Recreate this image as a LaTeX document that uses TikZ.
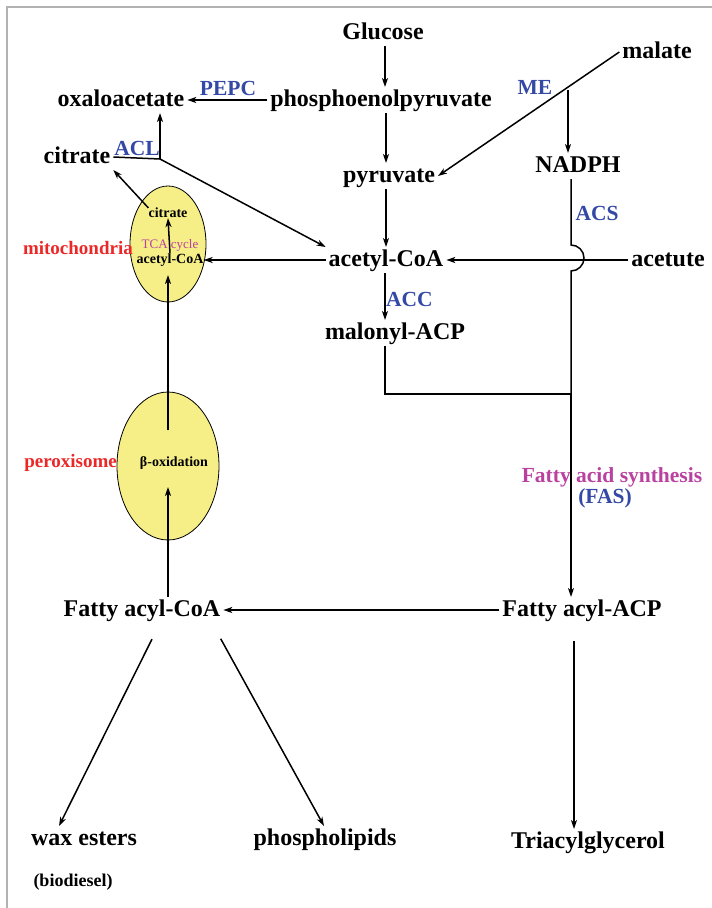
\documentclass[tikz,border=0pt]{standalone}
\usepackage{fontspec}
\setmainfont{Liberation Serif}
\usetikzlibrary{arrows.meta,shapes.geometric}

\definecolor{enzblue}{RGB}{52,72,165}
\definecolor{orgred}{RGB}{235,40,40}
\definecolor{fasmag}{RGB}{185,65,160}
\definecolor{orgyellow}{RGB}{246,238,135}

\tikzset{
	chem/.style={font=\fontsize{24}{27}\selectfont\bfseries, inner sep=0pt, outer sep=3pt, text height=16pt, text depth=4pt},
	small/.style={font=\fontsize{14}{16}\selectfont\bfseries, inner sep=0pt},
	enz/.style={font=\fontsize{21.5}{24}\selectfont\bfseries, text=enzblue, inner sep=0pt},
	organ/.style={font=\fontsize{19}{22}\selectfont\bfseries, text=orgred, inner sep=0pt},
	organelle/.style={ellipse, draw, fill=orgyellow, line width=.8pt, inner sep=0pt},
	flow/.style={-{Stealth[length=9pt,width=6pt,inset=2.5pt]}, line width=1.5pt},
	link/.style={line width=1.5pt},
}

\begin{document}
\begin{tikzpicture}[x=1pt, y=-1pt]
	\useasboundingbox (0,0) rectangle (712,908);
	\draw[gray!60, line width=1.2pt] (7,908) -- (7,7) -- (712,7);

	% organelles
	\node[organelle, minimum width=76pt, minimum height=116pt] (mito) at (168,244) {};
	\node[organelle, minimum width=102pt, minimum height=148pt] (perox) at (168,466) {};
	\node[organ, anchor=east] (mitolbl) at (133,248) {mitochondria};
	\node[organ, anchor=east] (peroxlbl) at (117,463) {peroxisome};
	\node[small] (citin) at (168,213) {citrate};
	\node[small, font=\fontsize{13}{15}\selectfont, text=fasmag] (tca) at (170,245) {TCA cycle};
	\node[small] (acoain) at (170,260) {acetyl-CoA};
	\node[small] (beta) at (174,463) {β-oxidation};

	% metabolites
	\node[chem] (glucose) at (383,33) {Glucose};
	\node[chem] (pep) at (381,100) {phosphoenolpyruvate};
	\node[chem] (oaa) at (121,100) {oxaloacetate};
	\node[chem] (citout) at (77,157) {citrate};
	\node[chem] (pyr) at (389,176) {pyruvate};
	\node[chem] (malate) at (657,52) {malate};
	\node[chem] (nadph) at (578,166) {NADPH};
	\node[chem] (acoa) at (386,260) {acetyl-CoA};
	\node[chem] (acetute) at (668,260) {acetute};
	\node[chem] (malacp) at (395,333) {malonyl-ACP};
	\node[chem] (fasacp) at (582,610) {Fatty acyl-ACP};
	\node[chem] (facoa) at (142,610) {Fatty acyl-CoA};
	\node[chem] (wax) at (84,839) {wax esters};
	\node[chem, font=\fontsize{18}{20}\selectfont\bfseries] (bio) at (73,880) {(biodiesel)};
	\node[chem] (phos) at (325,839) {phospholipids};
	\node[chem] (tag) at (588,842) {Triacylglycerol};

	% enzymes
	\node[enz] (pepc) at (228,88) {PEPC};
	\node[enz] (acl) at (137,148) {ACL};
	\node[enz] (me) at (535,87) {ME};
	\node[enz] (acs) at (597,213) {ACS};
	\node[enz, anchor=west] (acc) at (386,299) {ACC};
	\node[enz, text=fasmag] (fas) at (612,477) {Fatty acid synthesis};
	\node[enz] (fasabbr) at (605,498) {(FAS)};

	% junctions
	\coordinate (jacl) at (160,159);
	\coordinate (jme) at (568,90);
	\coordinate (jfas) at (571,394);
	\coordinate (intop) at (168,430);
	\coordinate (inbot) at (168,487);

	% pathways
	\draw[flow] (glucose.south -| 385,0) -- (pep.north -| 385,0);
	\draw[flow] (pep.west) -- (oaa.east);
	\draw[flow] (pep.south -| 386,0) -- (pyr.north -| 386,0);
	\draw[flow] (pyr.south -| 386,0) -- (acoa.north -| 386,0);
	\draw[link] (citout.east) -- (jacl);
	\draw[flow] (jacl) -- (oaa.south -| jacl);
	\draw[flow] (jacl) -- (acoa.north west);
	\draw[flow] (citin.north west) -- (citout.south east);
	\draw[flow] (acoa.west) -- (acoain.east);
	\draw[flow] (acoain.north) -- (citin.south);
	\draw[flow] (malate.west) -- (pyr.east);
	\draw[flow] (jme) -- (nadph.north -| jme);
	\draw[link] (nadph.south -| jfas) -- (571,245) arc[start angle=90, end angle=-90, radius=13pt] -- (jfas);
	\draw[flow] (jfas) -- (fasacp.north -| jfas);
	\draw[flow] (acetute.west) -- (acoa.east);
	\draw[flow] (acoa.south -| 385,0) -- (malacp.north -| 385,0);
	\draw[link] (malacp.south -| 385,0) -- (385,394) -- (jfas);
	\draw[flow] (fasacp.west) -- (facoa.east);
	\draw[flow, shorten <=18pt] (fasacp.south -| 574,0) -- (tag.north -| 574,0);
	\draw[flow] (facoa.north -| inbot) -- (inbot);
	\draw[flow] (intop) -- (mito.south |- 0,275);
	\draw[flow, shorten <=18pt] (facoa.south -| 160,0) -- (wax.north -| 59,0);
	\draw[flow, shorten <=18pt] (facoa.south -| 212,0) -- (phos.north -| 324,0);
\end{tikzpicture}
\end{document}
